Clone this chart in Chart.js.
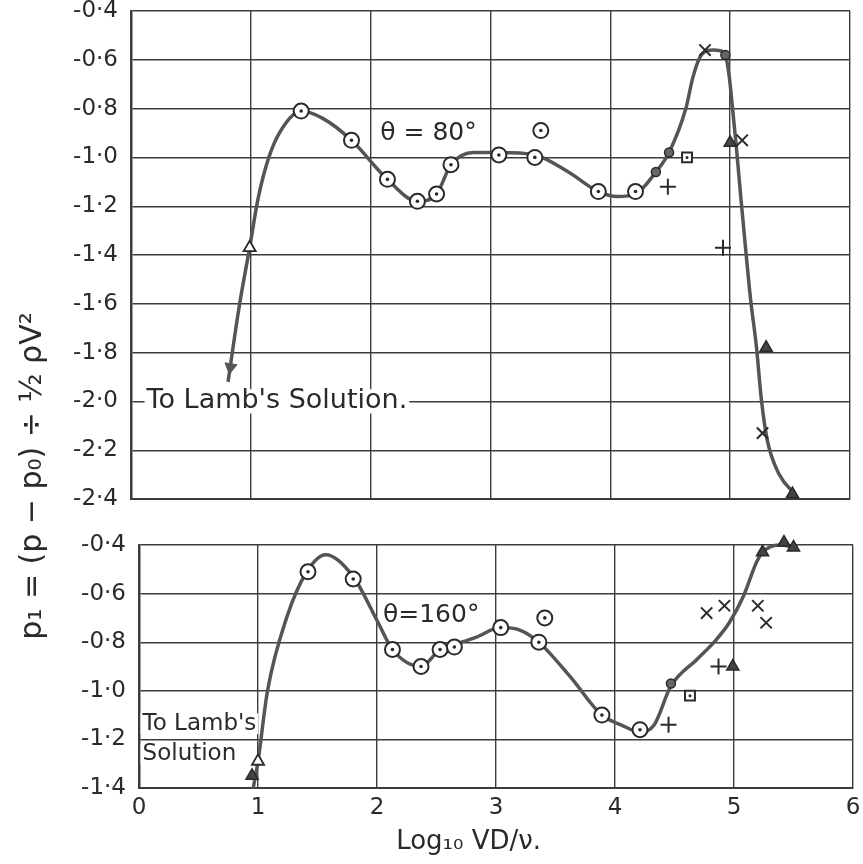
<!DOCTYPE html>
<html lang="en">
<head>
<meta charset="UTF-8">
<title>p1 against Log10 VD/v, theta = 80 and 160 degrees</title>
<script src="https://cdn.jsdelivr.net/npm/chart.js@4.4.1/dist/chart.umd.min.js"></script>
<style>
  html, body { margin: 0; padding: 0; background: #fff; }
  #wrap { position: relative; width: 863px; height: 864px; }
  #wrap canvas { position: absolute; left: 0; top: 0; }
</style>
</head>
<body>
<div id="wrap">
  <canvas id="panel80" width="863" height="864"></canvas>
  <canvas id="panel160" width="863" height="864"></canvas>
</div>
<script>
// ---- axes ----
const xTicks = [0, 1, 2, 3, 4, 5, 6];
const xLabels = ['0', '1', '2', '3', '4', '5', '6'];
const topYTicks = [-2.4, -2.2, -2.0, -1.8, -1.6, -1.4, -1.2, -1.0, -0.8, -0.6, -0.4];
const topYLabels = ['-2·4', '-2·2', '-2·0', '-1·8', '-1·6', '-1·4', '-1·2', '-1·0', '-0·8', '-0·6', '-0·4'];
const botYTicks = [-1.4, -1.2, -1.0, -0.8, -0.6, -0.4];
const botYLabels = ['-1·4', '-1·2', '-1·0', '-0·8', '-0·6', '-0·4'];

// ---- theta = 80 deg ----
const c80X = [0.81, 0.90, 0.99, 1.06, 1.15, 1.25, 1.42, 1.60, 1.84, 2.14, 2.39, 2.55, 2.67, 2.86, 3.07, 3.37, 3.65, 3.90, 4.06, 4.21, 4.38, 4.49, 4.63, 4.69, 4.76, 4.86, 4.95, 4.99, 5.02, 5.05, 5.09, 5.13, 5.17, 5.22, 5.26, 5.31, 5.41, 5.54];
const c80Y = [-1.92, -1.62, -1.37, -1.17, -1.00, -0.89, -0.81, -0.84, -0.93, -1.09, -1.18, -1.15, -1.03, -0.98, -0.98, -0.99, -1.06, -1.14, -1.16, -1.15, -1.06, -0.98, -0.80, -0.67, -0.58, -0.56, -0.57, -0.66, -0.80, -0.95, -1.17, -1.38, -1.58, -1.78, -1.99, -2.16, -2.30, -2.38];
const ring80X = [1.42, 1.84, 2.14, 2.39, 2.55, 2.67, 3.07, 3.37, 3.42, 3.90, 4.21];
const ring80Y = [-0.81, -0.93, -1.09, -1.18, -1.15, -1.03, -0.99, -1.00, -0.89, -1.14, -1.14];
const openTri80X = [0.99];
const openTri80Y = [-1.37];
const tri80X = [5.00, 5.30, 5.52];
const tri80Y = [-0.94, -1.78, -2.38];
const cross80X = [4.79, 5.10, 5.27];
const cross80Y = [-0.56, -0.93, -2.13];
const plus80X = [4.48, 4.94];
const plus80Y = [-1.12, -1.37];
const sq80X = [4.64];
const sq80Y = [-1.00];
const dot80X = [4.38, 4.49, 4.96];
const dot80Y = [-1.06, -0.98, -0.58];
const arrow80X = [0.83];
const arrow80Y = [-1.86];

// ---- theta = 160 deg ----
const c160X = [0.96, 1.00, 1.08, 1.24, 1.41, 1.57, 1.80, 2.01, 2.13, 2.37, 2.53, 2.65, 2.83, 3.04, 3.20, 3.36, 3.62, 3.89, 4.05, 4.21, 4.33, 4.47, 4.69, 4.85, 4.96, 5.08, 5.19, 5.24, 5.38, 5.52];
const c160Y = [-1.40, -1.29, -1.00, -0.70, -0.51, -0.44, -0.53, -0.72, -0.83, -0.90, -0.83, -0.81, -0.78, -0.74, -0.75, -0.80, -0.94, -1.10, -1.14, -1.17, -1.14, -0.98, -0.87, -0.79, -0.72, -0.61, -0.47, -0.43, -0.40, -0.41];
const ring160X = [1.42, 1.80, 2.13, 2.37, 2.53, 2.65, 3.04, 3.36, 3.41, 3.89, 4.21];
const ring160Y = [-0.51, -0.54, -0.83, -0.90, -0.83, -0.82, -0.74, -0.80, -0.70, -1.10, -1.16];
const openTri160X = [1.00];
const openTri160Y = [-1.29];
const tri160X = [0.95, 4.99, 5.24, 5.42, 5.50];
const tri160Y = [-1.35, -0.90, -0.43, -0.39, -0.41];
const cross160X = [4.77, 4.92, 5.20, 5.27];
const cross160Y = [-0.68, -0.65, -0.65, -0.72];
const plus160X = [4.45, 4.87];
const plus160Y = [-1.14, -0.90];
const sq160X = [4.63];
const sq160Y = [-1.02];
const dot160X = [4.47];
const dot160Y = [-0.97];

// notes, anchored in data units
const notes80 = [
  { text: 'θ = 80°', x: 2.08, y: -0.90, size: 25 },
  { text: "To Lamb's Solution.", x: 0.13, y: -2.0, size: 27, clear: true }
];
const notes160 = [
  { text: 'θ=160°', x: 2.05, y: -0.69, size: 25 },
  { text: "To Lamb's", x: 0.03, y: -1.135, size: 23, clear: true },
  { text: 'Solution', x: 0.03, y: -1.26, size: 23, clear: true }
];

// ---- styles ----
const ink = '#2a2a2a';
const lineInk = '#555';
const gridInk = '#3c3c3c';
const family = "'DejaVu Sans', 'Noto Sans', sans-serif";

const pts = (xs, ys) => xs.map((x, i) => ({ x: x, y: ys[i] }));

function sets(d) {
  return [
    { data: pts(d.ringX, d.ringY), pointStyle: 'circle', pointRadius: 1.8, pointBackgroundColor: ink, pointBorderWidth: 0 },
    { data: pts(d.sqX, d.sqY), pointStyle: 'circle', pointRadius: 1.5, pointBackgroundColor: ink, pointBorderWidth: 0 },
    { data: pts(d.ringX, d.ringY), pointStyle: 'circle', pointRadius: 7.5, pointBackgroundColor: '#fff', pointBorderColor: ink, pointBorderWidth: 2 },
    { data: pts(d.sqX, d.sqY), pointStyle: 'rect', pointRadius: 7, pointBackgroundColor: '#fff', pointBorderColor: ink, pointBorderWidth: 2 },
    { data: pts(d.crossX, d.crossY), pointStyle: 'crossRot', pointRadius: 8, pointBorderColor: ink, pointBorderWidth: 2 },
    { data: pts(d.plusX, d.plusY), pointStyle: 'cross', pointRadius: 8, pointBorderColor: ink, pointBorderWidth: 2 },
    { data: pts(d.triX, d.triY), pointStyle: 'triangle', pointRadius: 7, pointBackgroundColor: '#444', pointBorderColor: ink, pointBorderWidth: 1.5 },
    { data: pts(d.openTriX, d.openTriY), pointStyle: 'triangle', pointRadius: 7, pointBackgroundColor: '#fff', pointBorderColor: ink, pointBorderWidth: 1.8 },
    { data: pts(d.dotX, d.dotY), pointStyle: 'circle', pointRadius: 4.5, pointBackgroundColor: '#666', pointBorderColor: ink, pointBorderWidth: 1.5 },
    { data: pts(d.arrowX || [], d.arrowY || []), pointStyle: 'triangle', rotation: 189, pointRadius: 7, pointBackgroundColor: lineInk, pointBorderColor: lineInk, pointBorderWidth: 1 },
    { data: pts(d.curveX, d.curveY), showLine: true, cubicInterpolationMode: 'monotone', borderColor: lineInk, borderWidth: 3.5, pointRadius: 0 }
  ].map(s => Object.assign({ clip: false }, s));
}

function notesPlugin(notes) {
  return {
    id: 'notes',
    beforeDatasetsDraw(chart) {
      const { ctx, scales } = chart;
      ctx.save();
      ctx.textBaseline = 'middle';
      ctx.textAlign = 'left';
      notes.forEach(n => {
        ctx.font = n.size + 'px ' + family;
        const px = scales.x.getPixelForValue(n.x);
        const py = scales.y.getPixelForValue(n.y);
        if (n.clear) {
          const w = ctx.measureText(n.text).width;
          ctx.fillStyle = '#fff';
          ctx.fillRect(px - 2, py - n.size * 0.45, w + 4, n.size * 0.9);
        }
        ctx.fillStyle = ink;
        ctx.fillText(n.text, px, py);
      });
      ctx.restore();
    }
  };
}

const titlesPlugin = {
  id: 'titles',
  afterDraw(chart) {
    const { ctx, chartArea, scales } = chart;
    ctx.save();
    ctx.fillStyle = ink;
    ctx.textAlign = 'center';
    ctx.textBaseline = 'middle';
    ctx.font = '26px ' + family;
    ctx.fillText('Log₁₀ VD/ν.', scales.x.getPixelForValue(2.77), chartArea.bottom + 54);
    // y title spans both panels
    const yTitle = 'p₁ = (p − p₀) ÷ ½ ρV²';
    ctx.font = '24px ' + family;
    const size = 24 * 327 / ctx.measureText(yTitle).width;
    ctx.font = size.toFixed(1) + 'px ' + family;
    ctx.translate(33, 476);
    ctx.rotate(-Math.PI / 2);
    ctx.fillText(yTitle, 0, 0);
    ctx.restore();
  }
};

function panel(id, d, box, yTicks, yLabels, showX, plugins) {
  const tickFont = { family: family, size: 23, lineHeight: 1 };
  return new Chart(document.getElementById(id), {
    type: 'scatter',
    data: { datasets: sets(d) },
    options: {
      responsive: false,
      animation: false,
      events: [],
      layout: { padding: { left: 0, top: box.top, right: 863 - box.right, bottom: 864 - box.bottom - (showX ? 40 : 0) } },
      plugins: { legend: { display: false }, tooltip: { enabled: false } },
      scales: {
        x: {
          type: 'linear', min: 0, max: 6,
          afterBuildTicks: s => { s.ticks = xTicks.map(v => ({ value: v })); },
          afterFit: s => { s.height = showX ? 40 : 0; s.paddingLeft = 0; s.paddingRight = 0; },
          grid: { color: gridInk, lineWidth: 1.4, drawTicks: false },
          border: { color: gridInk, width: 2 },
          ticks: { display: showX, padding: 9, color: ink, font: tickFont, maxRotation: 0, autoSkip: false,
                   callback: (v, i) => xLabels[i] }
        },
        y: {
          type: 'linear', min: yTicks[0], max: yTicks[yTicks.length - 1],
          afterBuildTicks: s => { s.ticks = yTicks.map(v => ({ value: v })); },
          afterFit: s => { s.width = box.left; s.paddingTop = 0; s.paddingBottom = 0; },
          grid: { color: gridInk, lineWidth: 1.4, drawTicks: false },
          border: { color: gridInk, width: 2.5 },
          ticks: { padding: 13, color: ink, font: tickFont, autoSkip: false,
                   callback: (v, i) => yLabels[i] }
        }
      }
    },
    plugins: plugins
  });
}

panel('panel80', {
  curveX: c80X, curveY: c80Y, ringX: ring80X, ringY: ring80Y,
  openTriX: openTri80X, openTriY: openTri80Y, triX: tri80X, triY: tri80Y,
  crossX: cross80X, crossY: cross80Y, plusX: plus80X, plusY: plus80Y,
  sqX: sq80X, sqY: sq80Y, dotX: dot80X, dotY: dot80Y, arrowX: arrow80X, arrowY: arrow80Y
}, { left: 131, right: 850, top: 11, bottom: 499 }, topYTicks, topYLabels, false, [notesPlugin(notes80)]);

panel('panel160', {
  curveX: c160X, curveY: c160Y, ringX: ring160X, ringY: ring160Y,
  openTriX: openTri160X, openTriY: openTri160Y, triX: tri160X, triY: tri160Y,
  crossX: cross160X, crossY: cross160Y, plusX: plus160X, plusY: plus160Y,
  sqX: sq160X, sqY: sq160Y, dotX: dot160X, dotY: dot160Y
}, { left: 139, right: 856, top: 545, bottom: 788 }, botYTicks, botYLabels, true, [notesPlugin(notes160), titlesPlugin]);
</script>
</body>
</html>
